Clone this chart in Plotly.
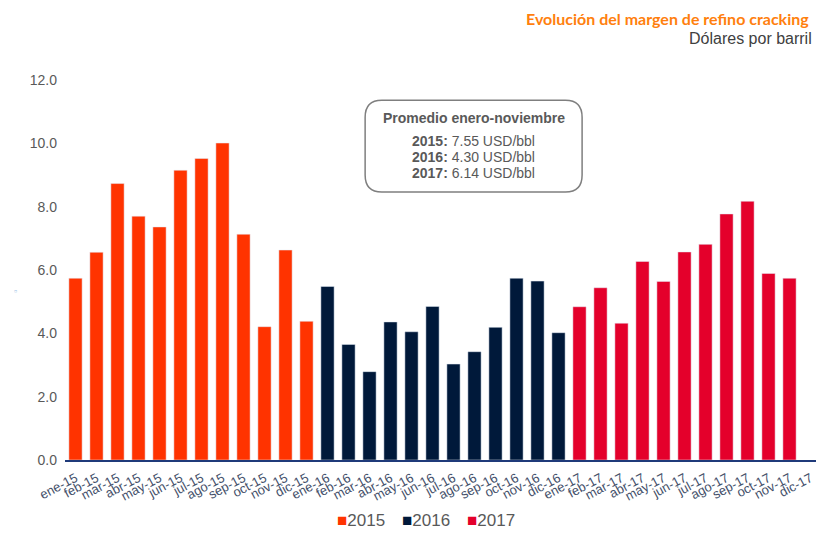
import plotly.graph_objects as go

months = ["ene", "feb", "mar", "abr", "may", "jun", "jul", "ago", "sep", "oct", "nov", "dic"]
labels_2015 = [f"{m}-15" for m in months]
labels_2016 = [f"{m}-16" for m in months]
labels_2017 = [f"{m}-17" for m in months]
all_labels = labels_2015 + labels_2016 + labels_2017

values_2015 = [5.74, 6.56, 8.73, 7.70, 7.36, 9.15, 9.52, 10.01, 7.13, 4.21, 6.63, 4.38]
values_2016 = [5.48, 3.65, 2.79, 4.36, 4.05, 4.85, 3.03, 3.42, 4.19, 5.74, 5.65, 4.02]
values_2017 = [4.84, 5.44, 4.32, 6.27, 5.64, 6.57, 6.81, 7.77, 8.17, 5.89, 5.74]

series_names = ["2015", "2016", "2017"]
averages = {"2015": 7.55, "2016": 4.30, "2017": 6.14}

colors = {"2015": "#FF3300", "2016": "#00193A", "2017": "#E4002B"}

fig = go.Figure()
fig.add_trace(go.Bar(x=labels_2015, y=values_2015, name="2015", marker_color=colors["2015"]))
fig.add_trace(go.Bar(x=labels_2016, y=values_2016, name="2016", marker_color=colors["2016"]))
fig.add_trace(go.Bar(x=labels_2017[:len(values_2017)], y=values_2017, name="2017", marker_color=colors["2017"]))

grey = "#595959"
font_family = "Liberation Sans, Arial, sans-serif"

# page body has an 8px margin, so the figure is drawn smaller and offset
fig.update_layout(
    width=816, height=525,
    margin=dict(l=57, r=3, t=72, b=73, autoexpand=False),
    paper_bgcolor="white", plot_bgcolor="white",
    barmode="relative", bargap=0.37,
    font=dict(family=font_family, color=grey),
    showlegend=False,
    xaxis=dict(type="category", categoryorder="array", categoryarray=all_labels,
               range=[-0.5, len(all_labels) - 0.5],
               tickangle=-28, tickfont=dict(size=13, color="#44506A"),
               showline=True, linecolor="#1F3A7A", linewidth=1.5,
               showgrid=False, ticks="", ticklabelstandoff=4),
    yaxis=dict(range=[0, 12], tickvals=[0, 2, 4, 6, 8, 10, 12], tickformat=".1f",
               tickfont=dict(size=14, color=grey), showgrid=False, zeroline=False,
               showline=False, ticks="", ticklabelstandoff=7),
)

# Legend built from annotations (compact, like the reference)
for name, xpos in zip(series_names, [0.392, 0.478, 0.563]):
    fig.add_annotation(xref="paper", yref="paper", x=xpos, y=-0.158, xanchor="center", yanchor="middle",
                       text=f"<span style='color:{colors[name]}'>■</span>{name}", showarrow=False,
                       font=dict(family=font_family, size=17, color=grey))

# Titles
fig.add_annotation(xref="paper", yref="paper", x=0.987, y=1.163, xanchor="right", yanchor="middle",
                   text="<b>Evolución del margen de refino cracking</b>", showarrow=False,
                   font=dict(family="Lato, sans-serif", size=16, color="#FF7F0E"))
fig.add_annotation(xref="paper", yref="paper", x=0.9905, y=1.1085, xanchor="right", yanchor="middle",
                   text="Dólares por barril", showarrow=False,
                   font=dict(family=font_family, size=16, color="#404040"))

# small axis glyph on the left
fig.add_annotation(xref="paper", yref="paper", x=-0.065, y=(460 - 291) / 380, xanchor="center",
                   yanchor="middle", text="▫", showarrow=False,
                   font=dict(size=9, color="#9DC3E6"))

# Rounded box
x0, x1, y0, y1 = 0.397, 0.684, 0.705, 0.947
rx, ry = 0.022, 0.045
path = (f"M {x0+rx},{y1} L {x1-rx},{y1} Q {x1},{y1} {x1},{y1-ry} "
        f"L {x1},{y0+ry} Q {x1},{y0} {x1-rx},{y0} "
        f"L {x0+rx},{y0} Q {x0},{y0} {x0},{y0+ry} "
        f"L {x0},{y1-ry} Q {x0},{y1} {x0+rx},{y1} Z")
fig.add_shape(type="path", xref="paper", yref="paper", path=path,
              line=dict(color="#7F7F7F", width=1.5), fillcolor="white")

xc = (x0 + x1) / 2
fig.add_annotation(xref="paper", yref="paper", x=xc, y=(460 - 118) / 380, xanchor="center", yanchor="middle",
                   text="<b>Promedio enero-noviembre</b>", showarrow=False,
                   font=dict(family=font_family, size=14, color=grey))
for i, (k, v) in enumerate(averages.items()):
    fig.add_annotation(xref="paper", yref="paper", x=xc, y=(460 - (141 + 16 * i)) / 380,
                       xanchor="center", yanchor="middle",
                       text=f"<b>{k}:</b> {v:.2f} USD/bbl", showarrow=False,
                       font=dict(family=font_family, size=14, color=grey))

fig.write_html("out.html")
